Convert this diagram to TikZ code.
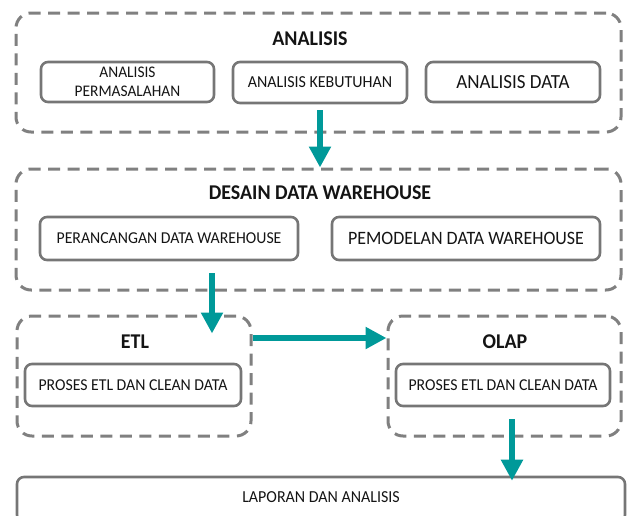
\documentclass[tikz,border=0pt]{standalone}
\usepackage{fontspec}
\setmainfont{Carlito}[FakeStretch=0.95]
\usetikzlibrary{arrows.meta}
\definecolor{framegray}{RGB}{128,128,128}
\definecolor{boxgray}{RGB}{118,118,118}
\definecolor{flowteal}{RGB}{0,153,153}
\definecolor{ink}{RGB}{20,20,20}
\newcommand{\fs}[1]{\fontsize{#1}{#1}\selectfont}
\tikzset{
  group/.style={draw=framegray, line width=3pt, dash pattern=on 12pt off 7.5pt,
    rounded corners=15pt, inner sep=0pt},
  item/.style={draw=boxgray, line width=2.6pt, rounded corners=7pt, align=center,
    inner sep=0pt, text=ink},
  title/.style={font=\fs{21}\bfseries, text=ink, inner sep=0pt},
  flow/.style={draw=flowteal, line width=6pt, -{Triangle[width=21pt,length=21pt]}},
}
\begin{document}
\begin{tikzpicture}[x=1pt,y=-1pt]
\useasboundingbox (0,0) rectangle (627,515);

% stage 1: analysis
\node[group, minimum width=605pt, minimum height=119pt] (ana) at (318.5,72.5) {};
\node[title] (anatitle) at (310,39) {ANALISIS};
\node[item, minimum width=173pt, minimum height=40pt, font=\fontsize{16.2}{18.5}\selectfont]
  (masalah) at (127.5,82) {ANALISIS\\PERMASALAHAN};
\node[item, minimum width=174pt, minimum height=41pt, font=\fs{16.8}] (butuh) at (320,82.5)
  {ANALISIS KEBUTUHAN};
\node[item, minimum width=174pt, minimum height=40pt, font=\fs{20}] (adata) at (513,82)
  {ANALISIS DATA};

% stage 2: warehouse design
\node[group, minimum width=605pt, minimum height=121pt] (desain) at (318.5,229.5) {};
\node[title] (desaintitle) at (320,193) {DESAIN DATA WAREHOUSE};
\node[item, minimum width=258pt, minimum height=43pt, font=\fs{16.6}] (rancang) at (169,238.5)
  {PERANCANGAN DATA WAREHOUSE};
\node[item, minimum width=268pt, minimum height=43pt, font=\fs{18.9}] (model) at (466,238.5)
  {PEMODELAN DATA WAREHOUSE};

% stage 3: ETL and OLAP
\node[group, minimum width=234pt, minimum height=120pt] (etl) at (134,376) {};
\node[title] (etltitle) at (135,342) {ETL};
\node[item, minimum width=216pt, minimum height=42pt, font=\fs{16.6}] (proses1) at (133,385)
  {PROSES ETL DAN CLEAN DATA};
\node[group, minimum width=233pt, minimum height=120pt] (olap) at (504.5,376) {};
\node[title] (olaptitle) at (505,342) {OLAP};
\node[item, minimum width=214pt, minimum height=42pt, font=\fs{16.6}] (proses2) at (503,385)
  {PROSES ETL DAN CLEAN DATA};

% stage 4: reporting
\node[item, minimum width=608pt, minimum height=45pt, font=\fs{16.8}] (laporan) at (321,499.5)
  {\raisebox{4pt}{LAPORAN DAN ANALISIS}};

% flow arrows
\coordinate (col2) at (212,0);
\coordinate (col4) at (512,0);
\draw[flow] ([yshift=-6pt]butuh.south) -- (butuh.south |- desain.north);
\draw[flow] ([yshift=-12pt]rancang.south -| col2) -- ([yshift=-19pt]etl.north -| col2);
\draw[flow] ([yshift=4pt]etl.east |- etltitle) -- ([yshift=4pt]olap.west |- etltitle);
\draw[flow] ([yshift=-12pt]proses2.south -| col4) -- ([yshift=-5pt]laporan.north -| col4);
\end{tikzpicture}
\end{document}
